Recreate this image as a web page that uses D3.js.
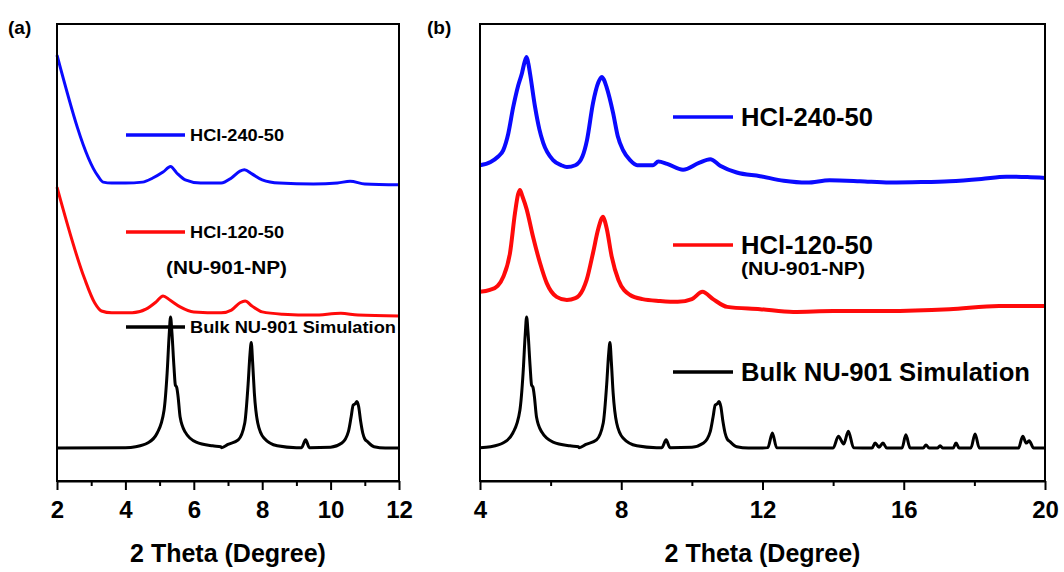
<!DOCTYPE html>
<html lang='en'>
	<head>
		<meta charset='utf-8'>
		<title>PXRD NU-901</title>
		<script type='text/javascript' src='https://cdn.jsdelivr.net/npm/d3@7/dist/d3.min.js'></script>
		<style>
			body { margin: 0; background: #fff; }
			text { font-family: 'Liberation Sans', Arial, sans-serif; font-weight: bold; }
		</style>
	</head>
	<body>
	</body>
	<script type='text/javascript'>
	// 2theta (deg), intensity (a.u., already offset for stacking)
	var simulation = [
		[2.0, 7.2], [4.0, 7.3], [4.3, 7.5], [4.65, 8.3], [4.93, 10.5], [5.13, 15.5], [5.22, 23.6], [5.28, 32.0],
		[5.32, 35.9], [5.36, 32.5], [5.42, 25.0], [5.46, 21.0], [5.5, 20.5], [5.54, 18.5], [5.6, 14.0], [5.75, 10.7],
		[6.07, 8.5], [6.55, 7.7], [6.79, 7.5], [6.81, 7.3], [7.0, 8.0], [7.3, 9.0], [7.49, 12.7], [7.59, 21.4],
		[7.64, 27.5], [7.68, 30.3], [7.72, 26.0], [7.77, 19.3], [7.87, 12.7], [8.05, 9.4], [8.44, 7.7], [9.0, 7.3],
		[9.15, 7.3], [9.27, 9.0], [9.38, 7.3], [10.0, 7.4], [10.33, 8.3], [10.52, 10.8], [10.6, 14.0], [10.66, 16.6],
		[10.72, 16.9], [10.77, 17.4], [10.82, 16.3], [10.88, 13.0], [10.94, 10.5], [11.0, 9.2], [11.08, 8.6], [11.27, 7.5],
		[11.6, 7.2], [12.0, 7.2], [12.15, 7.3], [12.28, 10.5], [12.4, 7.3], [14.0, 7.2], [14.15, 9.8], [14.3, 8.1],
		[14.43, 10.9], [14.58, 7.3], [15.1, 7.2], [15.19, 8.3], [15.3, 7.4], [15.41, 8.3], [15.52, 7.2], [15.95, 7.2],
		[16.06, 10.1], [16.18, 7.2], [16.55, 7.2], [16.63, 7.9], [16.72, 7.2], [16.95, 7.2], [17.03, 7.7], [17.11, 7.2],
		[17.4, 7.2], [17.48, 8.3], [17.57, 7.2], [17.9, 7.2], [18.02, 10.3], [18.14, 7.2], [19.25, 7.2], [19.37, 9.8],
		[19.47, 8.3], [19.55, 8.8], [19.68, 7.2], [20.0, 7.2]
	];

	var blueA = [
		[2.0, 93.2], [3.2, 66.7], [3.35, 65.4], [3.6, 65.2], [4.0, 65.2], [4.5, 65.4], [4.8, 66.3], [5.1, 67.6],
		[5.32, 68.8], [5.5, 67.4], [5.75, 65.9], [6.2, 65.2], [6.8, 65.2], [7.1, 66.3], [7.35, 67.8], [7.48, 68.1],
		[7.7, 67.2], [8.0, 65.9], [8.5, 65.2], [9.5, 65.0], [10.2, 65.2], [10.57, 65.6], [11.0, 65.0], [12.0, 64.8]
	];
	var redA = [
		[2.0, 64.3], [2.8, 44.4], [3.1, 39.0], [3.3, 37.2], [3.6, 36.8], [4.2, 36.8], [4.6, 37.6], [4.9, 39.2],
		[5.1, 40.5], [5.3, 39.6], [5.6, 38.1], [6.0, 37.0], [6.8, 36.8], [7.1, 37.4], [7.35, 39.0], [7.5, 39.4],
		[7.7, 38.3], [8.0, 37.0], [8.6, 36.5], [9.5, 36.3], [10.3, 36.7], [10.8, 36.3], [12.0, 36.1]
	];

	var blueB = [
		[4.0, 69.1], [4.3, 69.8], [4.5, 70.9], [4.66, 72.4], [4.8, 76.0], [4.94, 81.8], [5.08, 86.5], [5.19, 89.3],
		[5.26, 91.6], [5.32, 92.8], [5.37, 91.3], [5.42, 89.0], [5.56, 81.8], [5.68, 77.0], [5.79, 74.0], [6.07, 70.2],
		[6.3, 69.1], [6.46, 68.7], [6.7, 69.1], [6.9, 71.0], [7.03, 74.6], [7.2, 82.7], [7.35, 87.2], [7.41, 88.1],
		[7.45, 88.4], [7.51, 87.8], [7.58, 86.3], [7.77, 80.5], [7.9, 75.5], [8.05, 72.4], [8.25, 70.2], [8.45, 69.1],
		[8.9, 69.1], [9.05, 69.9], [9.3, 69.4], [9.75, 68.1], [10.2, 69.6], [10.52, 70.4], [10.8, 69.0], [11.27, 67.5],
		[11.93, 66.7], [12.6, 65.7], [13.26, 65.3], [13.9, 65.8], [14.76, 65.6], [15.6, 65.3], [16.5, 65.4], [17.3, 65.6],
		[18.2, 66.1], [18.9, 66.6], [19.5, 66.5], [20.0, 66.3]
	];
	var redB = [
		[4.0, 41.4], [4.28, 41.8], [4.5, 42.7], [4.66, 44.7], [4.85, 49.9], [4.99, 58.6], [5.08, 62.8], [5.13, 63.7],
		[5.2, 62.3], [5.32, 59.5], [5.5, 53.5], [5.7, 47.7], [5.89, 43.3], [6.17, 40.3], [6.46, 39.6], [6.7, 40.0],
		[6.92, 42.0], [7.02, 44.0], [7.2, 49.9], [7.34, 54.9], [7.44, 57.4], [7.48, 57.8], [7.53, 57.0], [7.59, 55.2],
		[7.73, 49.1], [7.92, 44.0], [8.25, 40.7], [8.6, 39.8], [9.1, 39.4], [9.6, 39.2], [10.0, 39.8], [10.3, 41.4],
		[10.6, 39.8], [11.0, 38.1], [11.93, 37.6], [12.87, 37.0], [14.0, 37.2], [14.76, 37.2], [15.5, 37.2], [17.3, 37.6],
		[18.7, 38.3], [20.0, 38.3]
	];

	var ticksA = [2, 4, 6, 8, 10, 12], minorA = [3, 5, 7, 9, 11];
	var ticksB = [4, 8, 12, 16, 20], minorB = [6, 10, 14, 18];
	var legendNames = ['HCl-240-50', 'HCl-120-50', 'Bulk NU-901 Simulation'];
	var legendSub = '(NU-901-NP)';
	var colors = ['#0a0aff', '#ff0a0a', '#000000'];

	var width = 1064, height = 572;
	var plotTop = 24, plotBottom = 481;
	var svg = d3.select('body').append('svg').attr('width', width).attr('height', height);

	var y_scale = d3.scaleLinear().domain([0, 100]).range([plotBottom, plotTop]);

	var panels = [
		{ id: 'a', left: 57, right: 399, domain: [2, 12], ticks: ticksA, minor: minorA,
		  series: [blueA, redA, simulation], widths: [3, 3, 3],
		  leg: { x0: 126, x1: 185, tx: 190, ys: [135, 232, 327], size: 17, lens: [94, 94, 206],
		         sub: { x: 166, y: 267, size: 19, len: 121 } } },
		{ id: 'b', left: 480, right: 1045, domain: [4, 20], ticks: ticksB, minor: minorB,
		  series: [blueB, redB, simulation], widths: [4, 4, 3],
		  leg: { x0: 673, x1: 733, tx: 741, ys: [117, 245, 372], size: 25, lens: [132, 132, 289],
		         sub: { x: 741, y: 268, size: 19, len: 124 } } }
	];

	panels.forEach(function(p) {
		var x_scale = d3.scaleLinear().domain(p.domain).range([p.left, p.right]);
		var g = svg.append('g').attr('id', 'panel_' + p.id);

		var line = d3.line()
			.x(d => x_scale(d[0]))
			.y(d => y_scale(d[1]))
			.curve(d3.curveMonotoneX);

		p.series.forEach(function(s, i) {
			var pts = s.filter(d => d[0] >= p.domain[0] && d[0] <= p.domain[1]);
			g.append('path')
				.attr('d', line(pts))
				.attr('fill', 'none')
				.attr('stroke', colors[i])
				.attr('stroke-width', p.widths[i])
				.attr('stroke-linejoin', 'round');
		});

		// legend
		legendNames.forEach(function(name, i) {
			var ly = p.leg.ys[i];
			g.append('line')
				.attr('x1', p.leg.x0).attr('x2', p.leg.x1)
				.attr('y1', ly).attr('y2', ly)
				.attr('stroke', colors[i]).attr('stroke-width', 3.5);
			g.append('text')
				.attr('x', p.leg.tx).attr('y', ly + p.leg.size * 0.36)
				.attr('font-size', p.leg.size + 'px')
				.attr('textLength', p.leg.lens[i]).attr('lengthAdjust', 'spacingAndGlyphs')
				.text(name);
		});
		g.append('text')
			.attr('x', p.leg.sub.x).attr('y', p.leg.sub.y + p.leg.sub.size * 0.36)
			.attr('font-size', p.leg.sub.size + 'px')
			.attr('textLength', p.leg.sub.len).attr('lengthAdjust', 'spacingAndGlyphs')
			.text(legendSub);

		// frame
		g.append('rect')
			.attr('x', p.left).attr('y', plotTop)
			.attr('width', p.right - p.left).attr('height', plotBottom - plotTop)
			.attr('fill', 'none').attr('stroke', '#000').attr('stroke-width', 2);

		g.append('g')
			.attr('transform', 'translate(0,' + plotBottom + ')')
			.call(d3.axisBottom(x_scale).tickValues(p.minor).tickSize(5).tickFormat(''))
			.call(a => a.select('.domain').remove())
			.selectAll('line').attr('stroke-width', 2);

		var ax = g.append('g')
			.attr('transform', 'translate(0,' + plotBottom + ')')
			.call(d3.axisBottom(x_scale).tickValues(p.ticks).tickSizeInner(9).tickSizeOuter(0).tickPadding(11).tickFormat(d3.format('d')));
		ax.select('.domain').attr('stroke-width', 2);
		ax.selectAll('line').attr('stroke-width', 2);
		ax.selectAll('text')
			.attr('font-size', '24px')
			.attr('font-family', "'Liberation Sans', Arial, sans-serif")
			.attr('font-weight', 'bold')
			.attr('fill', '#000');

		g.append('text')
			.attr('x', (p.left + p.right) / 2).attr('y', 562)
			.attr('text-anchor', 'middle')
			.attr('font-size', '25px')
			.text('2 Theta (Degree)');

		g.append('text')
			.attr('x', p.id == 'a' ? 8 : 427).attr('y', 34)
			.attr('font-size', '19px')
			.text('(' + p.id + ')');
	});
	</script>
</html>
